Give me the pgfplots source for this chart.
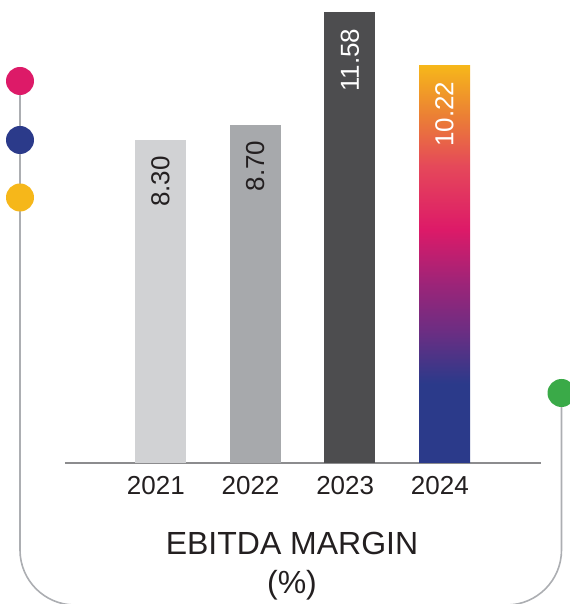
\documentclass[border=0pt]{standalone}
\usepackage{pgfplots}
\pgfplotsset{compat=1.18}
\usepackage{fontspec}
\setmainfont{Liberation Sans}

\definecolor{barlight}{RGB}{209,210,212}
\definecolor{barmid}{RGB}{167,169,172}
\definecolor{bardark}{RGB}{77,77,79}
\definecolor{gnavy}{RGB}{43,58,138}
\definecolor{gpurple}{RGB}{106,46,131}
\definecolor{gmagenta}{RGB}{158,36,120}
\definecolor{gpink}{RGB}{221,26,104}
\definecolor{gred}{RGB}{229,72,90}
\definecolor{gorange}{RGB}{235,127,53}
\definecolor{gyellow}{RGB}{246,183,26}
\definecolor{dotgreen}{RGB}{58,170,72}
\definecolor{txt}{RGB}{35,31,32}
\definecolor{linegray}{RGB}{172,174,178}
\definecolor{axisgray}{RGB}{140,140,142}

\pgfdeclareverticalshading{ebitda}{100bp}{
  color(0bp)=(gnavy); color(25bp)=(gnavy); color(35bp)=(gnavy);
  color(41.4bp)=(gpurple); color(47.7bp)=(gmagenta); color(54.4bp)=(gpink);
  color(62.3bp)=(gred); color(68.6bp)=(gorange); color(75bp)=(gyellow);
  color(100bp)=(gyellow)}

\begin{document}
\begin{tikzpicture}
% frame and dots, in image pixels (origin bottom left)
\begin{scope}[x=0.75pt, y=0.75pt]
  \useasboundingbox (0,0) rectangle (569,604);
  \draw[linegray, line width=1.2pt]
    (20,523) -- (20,54) arc[start angle=180, end angle=270, radius=55]
    -- (506.5,-1) arc[start angle=270, end angle=360, radius=55] -- (561.5,211);
  \fill[gpink]    (20,523)    circle[radius=14];
  \fill[gnavy]    (20,464)    circle[radius=14];
  \fill[gyellow]  (20,406.5)  circle[radius=14];
  \fill[dotgreen] (561.5,211) circle[radius=14];
  \node[txt, font=\fontsize{24}{28}\selectfont] at (292,61) {EBITDA MARGIN};
  \node[txt, font=\fontsize{24}{28}\selectfont] at (292,19) {(\%)};
\end{scope}

\begin{axis}[
  at={(48.75pt,105.75pt)}, anchor=south west,
  scale only axis, width=357pt, height=347.25pt,
  xmin=-1.009, xmax=4.019, ymin=0, ymax=11.9,
  axis x line=bottom, axis y line=none,
  x axis line style={-, draw=axisgray, line width=2pt},
  xtick={0,1,2,3}, xticklabels={2021,2022,2023,2024},
  ytick=\empty, major tick length=0pt,
  xticklabel style={font=\fontsize{19.5}{23}\selectfont, text=txt, xshift=-3.5pt, yshift=-6.5pt},
  ybar, bar width=0.539, bar shift=0pt, clip=false,
  /pgf/number format/assume math mode=true,
  nodes near coords={\pgfmathprintnumber[fixed,fixed zerofill,precision=2,assume math mode=true]{\pgfplotspointmeta}},
  every node near coord/.append style={font=\fontsize{19.5}{23}\selectfont,
    yshift=-12pt, rotate=90, anchor=east, inner sep=0pt},
]
\addplot[fill=barlight, draw=none, nodes near coords style={text=txt}] coordinates {(0,8.30)};
\addplot[fill=barmid, draw=none, nodes near coords style={text=txt}] coordinates {(1,8.70)};
\addplot[fill=bardark, draw=none, nodes near coords style={text=white}] coordinates {(2,11.58)};
\addplot[shade, shading=ebitda, draw=none, nodes near coords style={text=white}] coordinates {(3,10.22)};
\end{axis}
\end{tikzpicture}
\end{document}
